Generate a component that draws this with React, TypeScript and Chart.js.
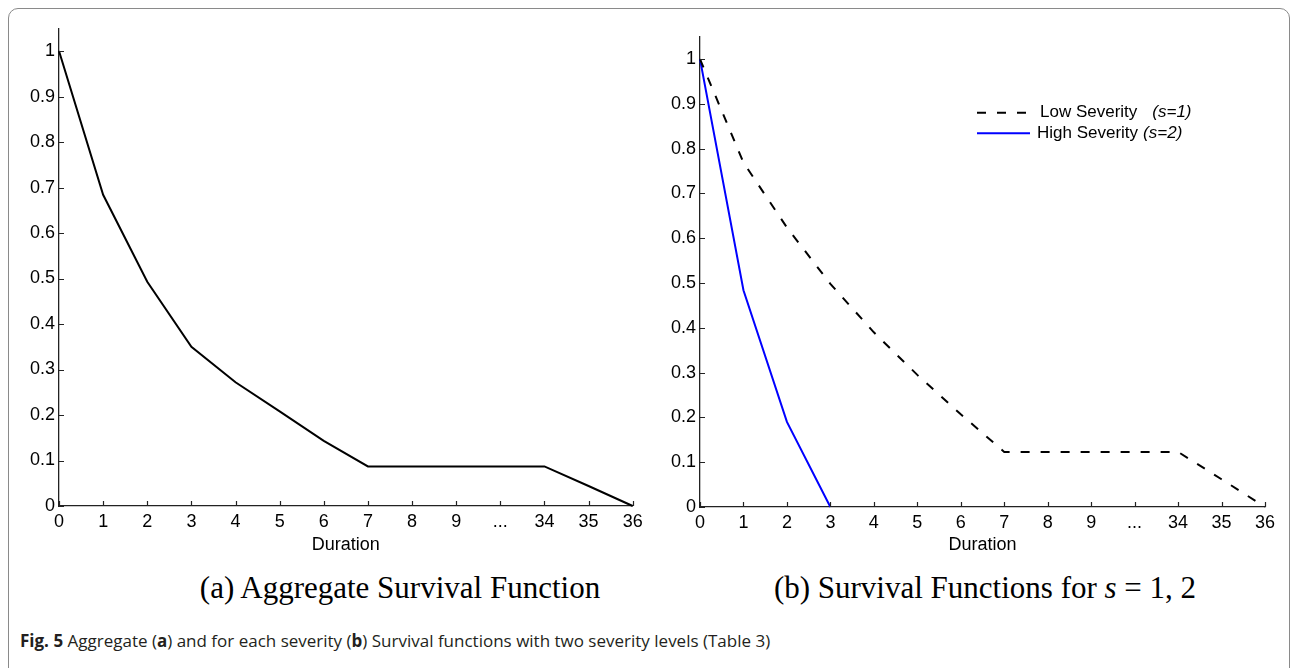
import React, { useEffect, useRef } from "react";
import { Chart, registerables } from "chart.js";

Chart.register(...registerables);

// ---------- data ----------
const xLabels = ["0", "1", "2", "3", "4", "5", "6", "7", "8", "9", "...", "34", "35", "36"];
const yTickValues = [0, 0.1, 0.2, 0.3, 0.4, 0.5, 0.6, 0.7, 0.8, 0.9, 1];
const aggregateSurvival = [1, 0.684, 0.493, 0.35, 0.272, 0.208, 0.143, 0.087, 0.087, 0.087, 0.087, 0.087, 0.044, 0];
const lowSeverity = [1, 0.769, 0.624, 0.498, 0.39, 0.295, 0.207, 0.123, 0.123, 0.123, 0.123, 0.123, 0.062, 0];
const highSeverity = [1, 0.484, 0.19, 0];
const legendLabels = ["Low Severity", "High Severity"];
const legendTags = ["(s=1)", "(s=2)"];

const FONT = '"Liberation Sans", Arial, Helvetica, sans-serif';
const FSIZE = 18;
const LEGEND_FSIZE = 17;

const inwardTicks = {
  id: "inwardTicks",
  afterDraw(chart: any) {
    const { ctx } = chart;
    const xs = chart.scales.x;
    const ys = chart.scales.y;
    const area = chart.chartArea;
    ctx.save();
    ctx.strokeStyle = "#222";
    ctx.lineWidth = 1.2;
    ctx.beginPath();
    xs.ticks.forEach((_t: any, i: number) => {
      const px = Math.round(xs.getPixelForTick(i)) + 0.5;
      ctx.moveTo(px, area.bottom);
      ctx.lineTo(px, area.bottom - 5);
    });
    ys.ticks.forEach((_t: any, i: number) => {
      const py = Math.round(ys.getPixelForTick(i)) + 0.5;
      ctx.moveTo(area.left, py);
      ctx.lineTo(area.left + 5, py);
    });
    ctx.stroke();
    ctx.restore();
  },
};

function makeLegendPlugin(x0: number, y0: number, dy: number) {
  return {
    id: "customLegend",
    afterDraw(chart: any) {
      const { ctx } = chart;
      const ds = chart.data.datasets;
      ctx.save();
      ds.forEach((d: any, i: number) => {
        const y = y0 + i * dy;
        ctx.beginPath();
        ctx.strokeStyle = d.borderColor;
        ctx.lineWidth = 2;
        ctx.setLineDash(d.borderDash || []);
        ctx.moveTo(x0, y);
        ctx.lineTo(x0 + 53, y);
        ctx.stroke();
        ctx.setLineDash([]);
        ctx.fillStyle = "#000";
        ctx.textBaseline = "middle";
        ctx.textAlign = "left";
        ctx.font = `${LEGEND_FSIZE}px ${FONT}`;
        const tx = i === 0 ? x0 + 63 : x0 + 60;
        ctx.fillText(legendLabels[i], tx, y);
        const w = ctx.measureText(legendLabels[i]).width;
        ctx.font = `italic ${LEGEND_FSIZE}px ${FONT}`;
        ctx.fillText(legendTags[i], tx + w + (i === 0 ? 15 : 5), y);
      });
      ctx.restore();
    },
  };
}

function buildOptions(padTop: number, padRight: number, yWidth: number, xHeight: number) {
  return {
    responsive: false,
    animation: false as const,
    layout: { padding: { top: padTop, right: padRight, left: 0, bottom: 0 } },
    plugins: { legend: { display: false }, tooltip: { enabled: false } },
    elements: { point: { radius: 0 }, line: { tension: 0 } },
    scales: {
      x: {
        type: "category" as const,
        offset: false,
        grid: { display: false, drawTicks: false },
        border: { display: true, color: "#222", width: 1.3 },
        ticks: { color: "#000", font: { family: FONT, size: FSIZE }, padding: 5, maxRotation: 0, autoSkip: false },
        title: { display: true, text: "Duration", color: "#000", font: { family: FONT, size: FSIZE }, padding: { top: 0, bottom: 4 } },
        afterFit(scale: any) {
          scale.height = xHeight;
          scale.paddingLeft = 0;
          scale.paddingRight = 0;
        },
      },
      y: {
        type: "linear" as const,
        min: 0,
        max: 1.05,
        grid: { display: false, drawTicks: false },
        border: { display: true, color: "#222", width: 1.3 },
        ticks: {
          color: "#000",
          font: { family: FONT, size: FSIZE },
          padding: 4,
          callback: (v: any) => String(Math.round(Number(v) * 10) / 10),
        },
        afterBuildTicks(scale: any) {
          scale.ticks = yTickValues.map((v) => ({ value: v }));
        },
        afterFit(scale: any) {
          scale.width = yWidth;
          scale.paddingTop = 0;
          scale.paddingBottom = 0;
        },
      },
    },
  };
}

function LeftChart() {
  const ref = useRef<HTMLCanvasElement | null>(null);
  useEffect(() => {
    if (!ref.current) return;
    const chart = new Chart(ref.current, {
      type: "line",
      data: {
        labels: xLabels,
        datasets: [
          { label: "Aggregate", data: aggregateSurvival, borderColor: "#000", borderWidth: 2, fill: false, clip: false as any },
        ],
      },
      options: buildOptions(28.3, 17.3, 59, 54) as any,
      plugins: [inwardTicks],
    });
    return () => chart.destroy();
  }, []);
  return <canvas ref={ref} width={650} height={560} style={{ position: "absolute", left: 0, top: 0, width: 650, height: 560 }} />;
}

function RightChart() {
  const ref = useRef<HTMLCanvasElement | null>(null);
  useEffect(() => {
    if (!ref.current) return;
    const chart = new Chart(ref.current, {
      type: "line",
      data: {
        labels: xLabels,
        datasets: [
          { label: "Low Severity (s=1)", data: lowSeverity, borderColor: "#000", borderWidth: 2, borderDash: [9, 11], fill: false, clip: false as any },
          { label: "High Severity (s=2)", data: highSeverity, borderColor: "#0000ff", borderWidth: 2, fill: false, clip: false as any },
        ],
      },
      options: buildOptions(36.7, 28, 50, 53) as any,
      plugins: [inwardTicks, makeLegendPlugin(327, 112.7, 20.6)],
    });
    return () => chart.destroy();
  }, []);
  return <canvas ref={ref} width={643} height={560} style={{ position: "absolute", left: 650, top: 0, width: 643, height: 560 }} />;
}

export default function App() {
  return (
    <div style={{ position: "absolute", left: 0, top: 0, width: 1293, height: 668, overflow: "hidden", background: "#fff" }}>
      <div
        style={{
          position: "absolute",
          left: 8,
          top: 8,
          width: 1282,
          height: 720,
          border: "1.5px solid #8a8a8a",
          borderRadius: 10,
          boxSizing: "border-box",
        }}
      />
      <LeftChart />
      <RightChart />
      <div
        style={{
          position: "absolute",
          left: 0,
          width: 800,
          top: 572,
          textAlign: "center",
          fontFamily: '"Liberation Serif", "Times New Roman", serif',
          fontSize: 31,
          lineHeight: "31px",
          color: "#000",
          whiteSpace: "nowrap",
        }}
      >
        (a) Aggregate Survival Function
      </div>
      <div
        style={{
          position: "absolute",
          left: 685,
          width: 600,
          top: 572,
          textAlign: "center",
          fontFamily: '"Liberation Serif", "Times New Roman", serif',
          fontSize: 31,
          lineHeight: "31px",
          color: "#000",
          whiteSpace: "nowrap",
        }}
      >
        (b) Survival Functions for <i>s</i> = 1, 2
      </div>
      <div
        style={{
          position: "absolute",
          left: 20,
          top: 631,
          fontFamily: '"Open Sans", "Noto Sans", sans-serif',
          fontSize: 17,
          lineHeight: "20px",
          color: "#231f20",
          whiteSpace: "nowrap",
        }}
      >
        <b>Fig. 5</b> Aggregate (<b>a</b>) and for each severity (<b>b</b>) Survival functions with two severity levels (Table 3)
      </div>
    </div>
  );
}
